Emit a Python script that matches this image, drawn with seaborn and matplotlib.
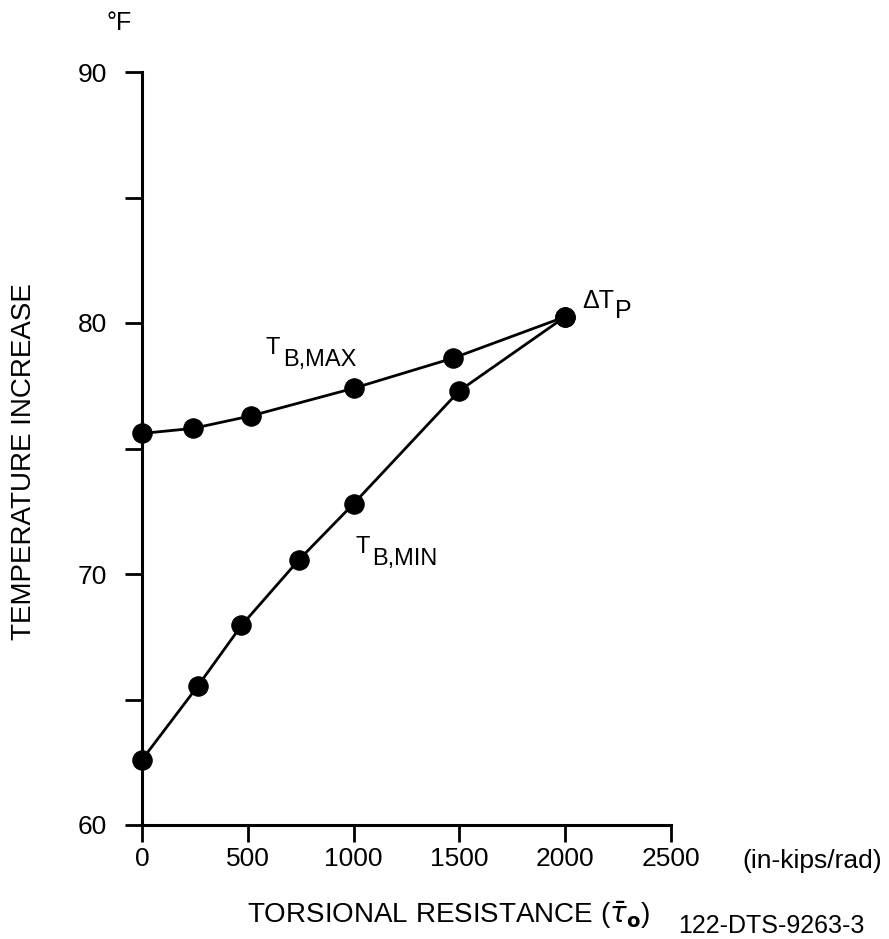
import matplotlib
matplotlib.use("Agg")
import matplotlib.pyplot as plt
import seaborn as sns

# Torsional resistance (in-kips/rad) and temperature increase (°F)
resistance_max = [0, 240, 515, 1000, 1470, 2000]
temp_max = [75.6, 75.8, 76.3, 77.4, 78.6, 80.25]

resistance_min = [0, 265, 470, 740, 1000, 1500, 2000]
temp_min = [62.6, 65.55, 67.95, 70.55, 72.8, 77.3, 80.25]

x_ticks = [0, 500, 1000, 1500, 2000, 2500]
y_ticks = [60, 70, 80, 90]
y_minor_ticks = [65, 75, 85]

sns.set_theme(style="ticks")
plt.rcParams["font.family"] = ["Liberation Sans", "DejaVu Sans"]
plt.rcParams["text.color"] = "black"
plt.rcParams["axes.labelcolor"] = "black"

W, H = 889, 939
fig = plt.figure(figsize=(W / 100, H / 100), dpi=100)
ax = fig.add_axes([142 / W, 1 - 825 / H, 529 / W, 753 / H])

line_kw = dict(color="black", linewidth=2.0, marker="o", markersize=14,
               markeredgecolor="black", markerfacecolor="black",
               sort=False, clip_on=False, ax=ax)
sns.lineplot(x=resistance_max, y=temp_max, **line_kw)
sns.lineplot(x=resistance_min, y=temp_min, **line_kw)

ax.set_xlim(0, 2500)
ax.set_ylim(60, 90)
ax.set_xticks(x_ticks)
ax.set_xticklabels([str(v) for v in x_ticks])
ax.set_yticks(y_ticks)
ax.set_yticklabels([str(v) for v in y_ticks])
ax.set_yticks(y_minor_ticks, minor=True)

sns.despine(ax=ax)
for side in ("left", "bottom"):
    ax.spines[side].set_linewidth(2.2)
    ax.spines[side].set_color("black")

ax.tick_params(axis="both", which="both", direction="out", length=12,
               width=2, color="black", labelcolor="black", labelsize=19)
ax.tick_params(axis="x", pad=4)
ax.tick_params(axis="y", pad=13)

# curve labels
ax.text(585, 78.75, "T", fontsize=17)
ax.text(666, 78.3, "B,MAX", fontsize=17)
ax.text(1011, 70.84, "T", fontsize=17)
ax.text(1087, 70.36, "B,MIN", fontsize=17)
ax.text(2079, 80.6, "ΔT", fontsize=18)
ax.text(2235, 80.2, "P", fontsize=18)

# axis titles and units
fig.text(107 / W, 1 - 30 / H, "°F", fontsize=18, va="baseline")
fig.text(24 / W, 1 - 462 / H, "TEMPERATURE INCREASE", fontsize=20,
         rotation=90, ha="center", va="center")
fig.text(247 / W, 1 - 923 / H, r"TORSIONAL RESISTANCE ($\bar{\tau}_{\mathbf{o}}$)",
         fontsize=20, va="baseline")
fig.text(742 / W, 1 - 868 / H, "(in-kips/rad)", fontsize=19, va="baseline")
fig.text(678 / W, 1 - 933 / H, "122-DTS-9263-3", fontsize=18, va="baseline")

fig.savefig("out.png", dpi=100)
